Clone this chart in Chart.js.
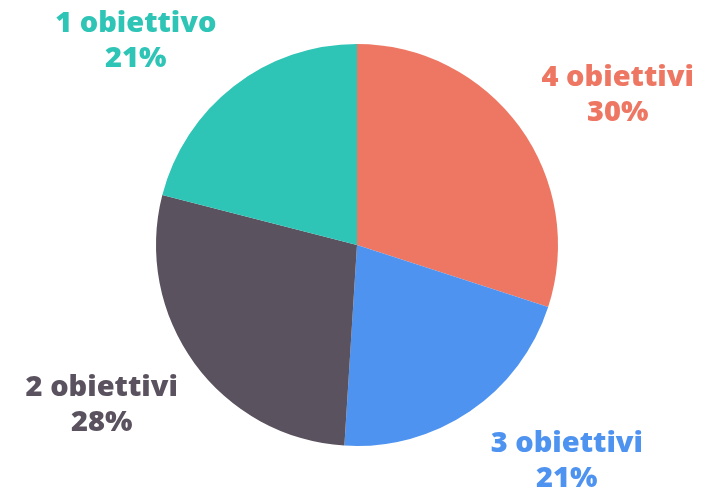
<!DOCTYPE html>
<html>
<head>
<meta charset="utf-8">
<script src="https://cdn.jsdelivr.net/npm/chart.js@4"></script>
<style>
  html, body { margin: 0; padding: 0; background: #ffffff; }
  #wrap { width: 704px; height: 491px; }
</style>
</head>
<body>
<div id="wrap"><canvas id="pieChart" width="704" height="491"></canvas></div>
<script>
const labels = ["4 obiettivi", "3 obiettivi", "2 obiettivi", "1 obiettivo"];
const values = [30, 21, 28, 21];
const colors = ["#EE7763", "#4F93F0", "#5A525E", "#2EC4B6"];

// small angular nudges (deg) so labels sit where the original has them
const labelShift = [6, -10, 4, -9.5];

const outsideLabels = {
    id: "outsideLabels",
    afterDatasetsDraw(chart) {
        const ctx = chart.ctx;
        const meta = chart.getDatasetMeta(0);
        ctx.save();
        ctx.font = "800 29px 'Open Sans'";
        ctx.textAlign = "center";
        ctx.textBaseline = "middle";
        meta.data.forEach((arc, i) => {
            const p = arc.getProps(["x", "y", "startAngle", "endAngle", "outerRadius"], true);
            const mid = (p.startAngle + p.endAngle) / 2 + labelShift[i] * Math.PI / 180;
            const r = p.outerRadius + 100;
            const cx = p.x + Math.cos(mid) * r;
            const cy = p.y + Math.sin(mid) * r;
            ctx.fillStyle = colors[i];
            ctx.fillText(labels[i], cx, cy - 17);
            ctx.fillText(values[i] + "%", cx, cy + 18);
        });
        ctx.restore();
    }
};

new Chart(document.getElementById("pieChart"), {
    type: "pie",
    data: {
        labels: labels,
        datasets: [{
            data: values,
            backgroundColor: colors,
            borderWidth: 0
        }]
    },
    options: {
        responsive: false,
        animation: false,
        layout: { padding: { top: 44, bottom: 45, left: 10, right: 0 } },
        plugins: {
            legend: { display: false },
            tooltip: { enabled: false }
        }
    },
    plugins: [outsideLabels]
});
</script>
</body>
</html>
